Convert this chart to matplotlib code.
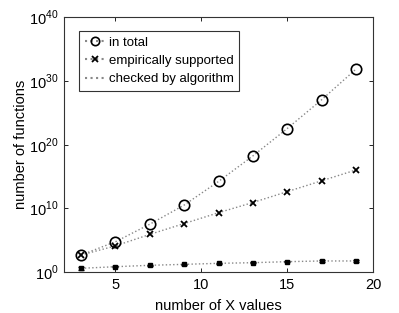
import matplotlib
matplotlib.use("Agg")
import matplotlib.pyplot as plt
import numpy as np

# number of X values
n_x = [3, 5, 7, 9, 11, 13, 15, 17, 19]

# log10 of the number of functions
log_total = [2.67, 4.75, 7.5, 10.5, 14.2, 18.2, 22.5, 27.0, 31.8]
log_empirical = [2.67, 4.1, 5.9, 7.6, 9.3, 10.9, 12.6, 14.3, 16.0]
log_checked = [0.58, 0.83, 1.05, 1.2, 1.36, 1.46, 1.62, 1.73, 1.73]
log_checked_err = [0.25, 0.12, 0.1, 0.1, 0.1, 0.1, 0.1, 0.1, 0.1]

plt.rcParams["font.family"] = ["Liberation Sans", "DejaVu Sans"]
plt.rcParams["mathtext.fontset"] = "custom"
plt.rcParams["mathtext.rm"] = "Liberation Sans"

total = 10.0 ** np.array(log_total)
empirical = 10.0 ** np.array(log_empirical)
checked = 10.0 ** np.array(log_checked)
lo = checked - 10.0 ** (np.array(log_checked) - np.array(log_checked_err))
hi = 10.0 ** (np.array(log_checked) + np.array(log_checked_err)) - checked

fig = plt.figure(figsize=(3.99, 3.13), dpi=100)
ax = fig.add_axes([64 / 399, 1 - 272 / 313, 309 / 399, 255 / 313])

line_kw = dict(color="#888888", ls=":", lw=1.0)
ax.plot(n_x, total, **line_kw)
ax.plot(n_x, empirical, **line_kw)
ax.plot(n_x, checked, **line_kw)
ax.plot(n_x, total, "o", mfc="none", mec="black", ms=7.5, mew=1.2)
ax.plot(n_x, empirical, "x", color="black", ms=5, mew=1.3)
ax.errorbar(n_x, checked, yerr=[lo, hi], fmt="s", color="black", ms=2.5,
            ecolor="black", elinewidth=1.0, capsize=2.5, capthick=1.0)

# legend proxies carry the dotted line through the marker
p1, = ax.plot([], [], ls=":", color="#888888", marker="o", mfc="none",
              mec="black", ms=6, mew=1.2)
p2, = ax.plot([], [], ls=":", color="#888888", marker="x", mec="black",
              ms=4.5, mew=1.3)
p3, = ax.plot([], [], ls=":", color="#888888")
leg = ax.legend([p1, p2, p3],
                ["in total", "empirically supported", "checked by algorithm"],
                loc="upper left", bbox_to_anchor=(0.048, 0.946), fontsize=9.5,
                frameon=True, fancybox=False, handlelength=1.5,
                handletextpad=0.3, borderpad=0.45, labelspacing=0.45,
                borderaxespad=0)
leg.get_frame().set_edgecolor("black")
leg.get_frame().set_linewidth(0.8)

ax.set_yscale("log")
ax.set_xlim(2, 20)
ax.set_ylim(1, 1e40)
ax.set_xticks([5, 10, 15, 20])
ax.set_yticks([1e0, 1e10, 1e20, 1e30, 1e40])
ax.set_yticklabels(["$10^{0}$", "$10^{10}$", "$10^{20}$", "$10^{30}$", "$10^{40}$"])
ax.minorticks_off()
ax.tick_params(direction="in", top=True, right=True, length=3, width=0.6,
               labelsize=10.5, pad=4)
for sp in ax.spines.values():
    sp.set_linewidth(0.8)
    sp.set_color("#333333")

ax.set_xlabel("number of X values", fontsize=10.5, labelpad=5)
ax.set_ylabel("number of functions", fontsize=10.5)
ax.yaxis.set_label_coords(-0.115, 0.5)

fig.savefig("out.png", dpi=100)
